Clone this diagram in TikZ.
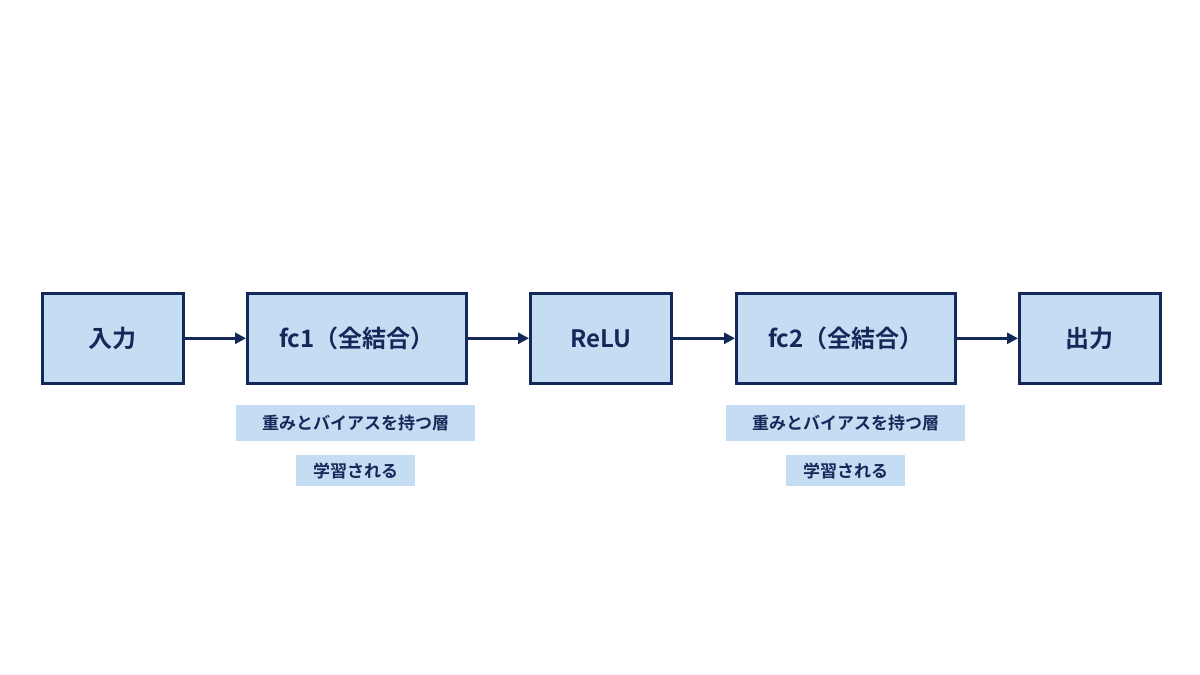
\documentclass[tikz,border=0pt]{standalone}
\usepackage{fontspec}
\setmainfont{Noto Sans CJK JP}[BoldFont={Noto Sans CJK JP Bold}]
\usetikzlibrary{arrows.meta}
\definecolor{nav}{HTML}{14295A}
\definecolor{fillb}{HTML}{C5DDF3}
\begin{document}
\begin{tikzpicture}[x=1pt,y=-1pt,
  box/.style={draw=nav,line width=2.6pt,fill=fillb,anchor=north west,inner sep=0,text=nav,font=\bfseries\fontsize{24}{28}\selectfont},
  lab/.style={fill=fillb,anchor=north west,inner sep=0,text=nav,font=\bfseries\fontsize{17}{20}\selectfont},
  arr/.style={draw=nav,line width=2.6pt,-{Triangle[length=11pt,width=11pt]}}]
\useasboundingbox[fill=white] (0,0) rectangle (1200,675);
\node[box,minimum width=141pt,minimum height=90pt] (in) at (41,292) {入力};
\node[box,minimum width=219pt,minimum height=90pt] (fc1) at (246,292) {fc1（全結合）};
\node[box,minimum width=141pt,minimum height=90pt] (relu) at (529,292) {ReLU};
\node[box,minimum width=219pt,minimum height=90pt] (fc2) at (735,292) {fc2（全結合）};
\node[box,minimum width=141pt,minimum height=90pt] (out) at (1018,292) {出力};
\draw[arr] (in) -- (fc1);
\draw[arr] (fc1) -- (relu);
\draw[arr] (relu) -- (fc2);
\draw[arr] (fc2) -- (out);
\node[lab,minimum width=239pt,minimum height=36pt] (l1) at (236,405) {重みとバイアスを持つ層};
\node[lab,minimum width=119pt,minimum height=31pt] (l2) at (296,455) {学習される};
\node[lab,minimum width=239pt,minimum height=36pt] (l3) at (726,405) {重みとバイアスを持つ層};
\node[lab,minimum width=119pt,minimum height=31pt] (l4) at (786,455) {学習される};
\end{tikzpicture}
\end{document}
